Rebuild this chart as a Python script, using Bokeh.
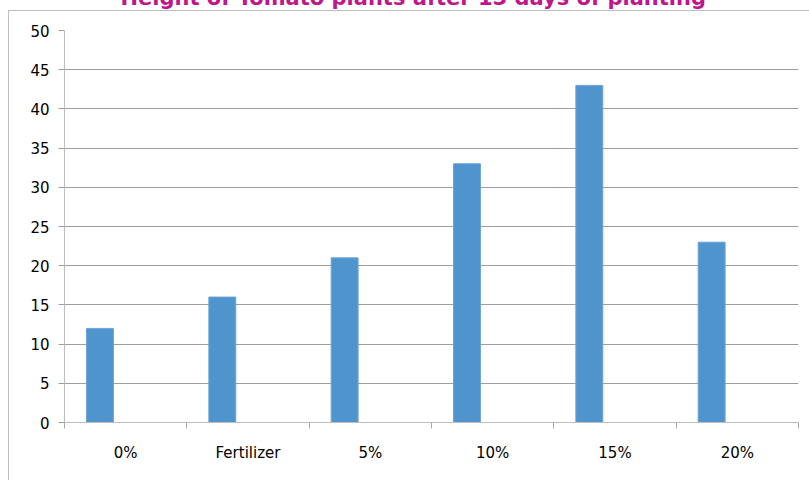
from bokeh.plotting import figure
from bokeh.models import Range1d, FixedTicker, ColumnDataSource, Title
from bokeh.transform import dodge
from bokeh.embed import file_html
from bokeh.resources import INLINE

categories = ["0%", "Fertilizer", "5%", "10%", "15%", "20%"]
heights = [12, 16, 21, 33, 43, 23]
y_ticks = [0, 5, 10, 15, 20, 25, 30, 35, 40, 45, 50]
title_text = "Height of Tomato plants after 15 days of planting"

n = len(categories)
centers = [i + 0.5 for i in range(n)]
source = ColumnDataSource(data=dict(center=centers, height=heights, cat=categories))

SHIFT = 38  # canvas is shifted up so that the title's top is cut off like in the reference

p = figure(width=809, height=480 + SHIFT, output_backend="svg", toolbar_location=None,
           x_range=Range1d(0, n), y_range=Range1d(0, 50),
           min_border_left=64, min_border_right=11, min_border_top=30 + SHIFT, min_border_bottom=58,
           margin=(-SHIFT, 0, 0, 0))
p.outline_line_color = None
p.background_fill_color = "white"
p.border_fill_color = None

# outer chart border (top and left edges) drawn as CSS background lines
p.styles = {
    "background-color": "white",
    "background-image": "linear-gradient(#BDBDBD, #BDBDBD), linear-gradient(#BDBDBD, #BDBDBD)",
    "background-size": "801px 1px, 1px 520px",
    "background-position": f"8px {10 + SHIFT}px, 8px {10 + SHIFT}px",
    "background-repeat": "no-repeat",
}

p.vbar(x=dodge("center", -0.21, range=p.x_range), top="height", width=0.22, source=source,
       fill_color="#4F94CD", line_color="#6AA5D8", line_width=1)

# grid
p.xgrid.grid_line_color = None
p.ygrid.grid_line_color = "#9E9E9E"
p.ygrid.ticker = FixedTicker(ticks=y_ticks)

# y axis
p.yaxis.ticker = FixedTicker(ticks=y_ticks)
p.yaxis.axis_line_color = "#BEBEBE"
p.yaxis.major_tick_line_color = "#9E9E9E"
p.yaxis.major_tick_out = 6
p.yaxis.major_tick_in = 0
p.yaxis.minor_tick_line_color = None
p.yaxis.major_label_standoff = 9
p.yaxis.major_label_text_font = "DejaVu Sans"
p.yaxis.major_label_text_font_size = "15px"
p.yaxis.major_label_text_color = "#000000"

# x axis: labels at category centers, ticks at category boundaries
p.xaxis.ticker = FixedTicker(ticks=centers, minor_ticks=list(range(n + 1)))
p.xaxis.major_label_overrides = {c: lab for c, lab in zip(centers, categories)}
p.xaxis.axis_line_color = "#BEBEBE"
p.xaxis.major_tick_line_color = None
p.xaxis.major_tick_out = 0
p.xaxis.major_tick_in = 0
p.xaxis.minor_tick_line_color = "#A8A8A8"
p.xaxis.minor_tick_out = 6
p.xaxis.minor_tick_in = 0
p.xaxis.major_label_standoff = 15
p.xaxis.major_label_text_font = "DejaVu Sans"
p.xaxis.major_label_text_font_size = "15px"
p.xaxis.major_label_text_color = "#000000"

title = Title(text=title_text, align="left", offset=56, vertical_align="bottom",
              standoff=42, text_color="#C0168C", text_font="DejaVu Sans",
              text_font_style="bold", text_font_size="21px")
p.add_layout(title, "above")

open("out.html", "w").write(file_html(p, INLINE))
